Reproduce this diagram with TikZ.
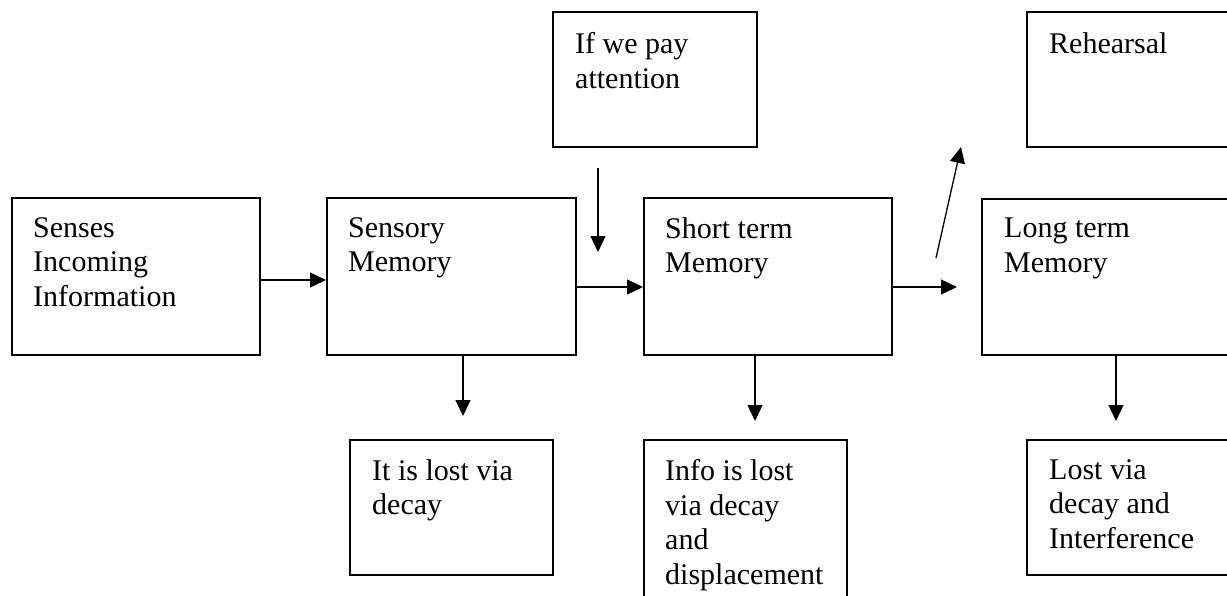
\documentclass[tikz,border=0pt]{standalone}
\usepackage{fontspec}
\setmainfont{Liberation Serif}
\usetikzlibrary{arrows.meta}
\begin{document}
\begin{tikzpicture}[x=1pt,y=-1pt,
  box/.style={draw=black, line width=1.6pt, rectangle},
  txt/.style={anchor=north west, inner sep=0pt, align=left,
    font=\fontsize{30}{34.7}\selectfont},
  arr/.style={line width=1.3pt, -{Triangle[length=16pt,width=15pt]}}]
\useasboundingbox (0,0) rectangle (1227,595);
\clip (0,0) rectangle (1227,595);
% main row
\node[box, minimum width=248pt, minimum height=157pt, anchor=north west] (senses) at (11,197) {};
\node[box, minimum width=249pt, minimum height=157pt, anchor=north west] (sensory) at (326,197) {};
\node[box, minimum width=248pt, minimum height=157pt, anchor=north west] (short) at (643,197) {};
\node[box, minimum width=270pt, minimum height=156pt, anchor=north west] (long) at (981,198) {};
% top row
\node[box, minimum width=204pt, minimum height=135pt, anchor=north west] (attn) at (552,11) {};
\node[box, minimum width=230pt, minimum height=135pt, anchor=north west] (rehe) at (1026,11) {};
% bottom row
\node[box, minimum width=203pt, minimum height=135pt, anchor=north west] (decay) at (349,439) {};
\node[box, minimum width=203pt, minimum height=180pt, anchor=north west] (info) at (643,439) {};
\node[box, minimum width=230pt, minimum height=135pt, anchor=north west] (lost) at (1026,439) {};
% texts
\node[txt] (tsenses) at ([shift={(22,20)}]senses.north west) {Senses\\Incoming\\Information};
\node[txt] (tsensory) at ([shift={(22,20)}]sensory.north west) {Sensory\\Memory};
\node[txt] (tshort) at ([shift={(22,20)}]short.north west) {Short term\\Memory};
\node[txt] (tlong) at ([shift={(23,20)}]long.north west) {Long term\\Memory};
\node[txt] (tattn) at ([shift={(23,21)}]attn.north west) {If we pay\\attention};
\node[txt] (trehe) at ([shift={(23,21)}]rehe.north west) {Rehearsal};
\node[txt] (tdecay) at ([shift={(23,20)}]decay.north west) {It is lost via\\decay};
\node[txt] (tinfo) at ([shift={(22,20)}]info.north west) {Info is lost\\via decay\\and\\displacement};
\node[txt] (tlost) at ([shift={(23,20)}]lost.north west) {Lost via\\decay and\\Interference};
% free arrow ends
\coordinate (attnS) at (598,168);
\coordinate (attnE) at (598,252);
\coordinate (stE) at (957,287);
\coordinate (rehS) at (936,258);
\coordinate (rehE) at (961,147);
% connectors
\draw[arr] (senses.east |- 0,280) -- (sensory.west |- 0,280);
\draw[arr] (sensory.east |- 0,287) -- (short.west |- 0,287);
\draw[arr] (short.east |- 0,287) -- (stE);
\draw[arr] (attnS) -- (attnE);
\draw[arr] (rehS) -- (rehE);
\draw[arr] (463,354) -- (463,416);
\draw[arr] (755,354) -- (755,421);
\draw[arr] (1116,354) -- (1116,421);
\end{tikzpicture}
\end{document}
